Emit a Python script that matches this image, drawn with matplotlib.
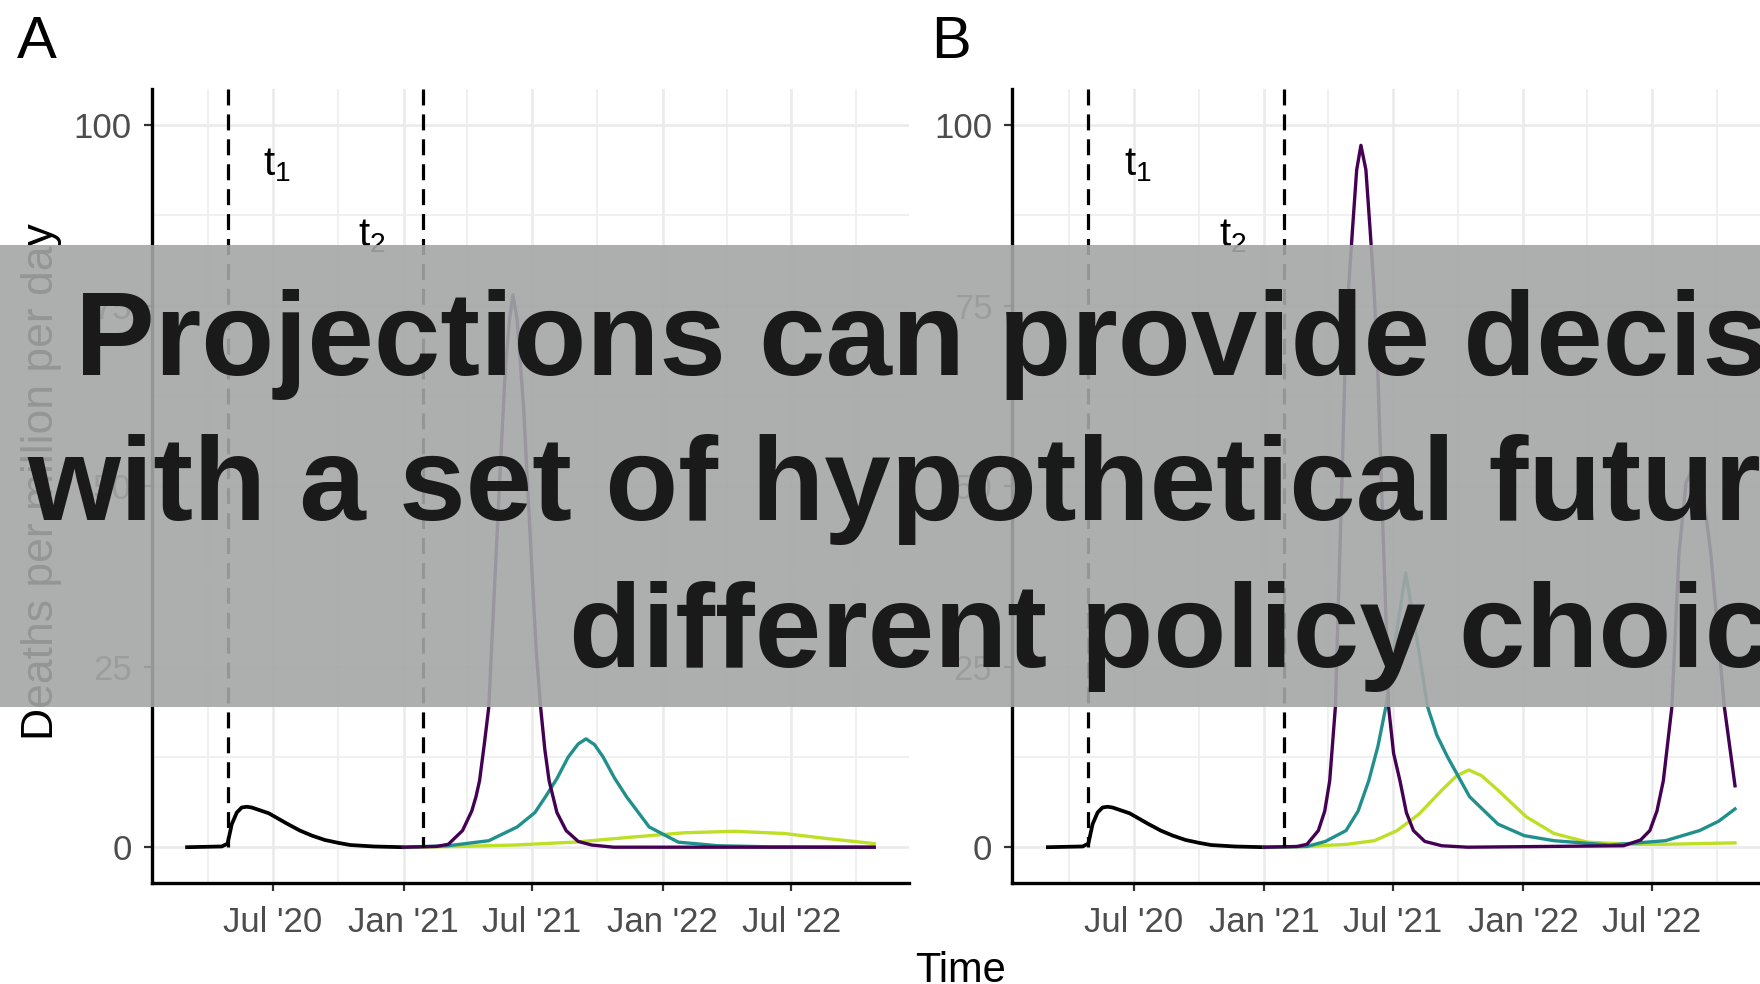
import matplotlib
matplotlib.use("Agg")
import matplotlib.pyplot as plt
import numpy as np
from matplotlib.patches import Rectangle

plt.rcParams['font.family'] = ['Liberation Sans', 'DejaVu Sans']
plt.rcParams['mathtext.fontset'] = 'custom'
plt.rcParams['mathtext.rm'] = 'Liberation Sans'
plt.rcParams['mathtext.it'] = 'Liberation Sans:italic'

# observed deaths (black, same in both panels)
obs_dates = ['2020-03-02', '2020-04-20', '2020-04-28', '2020-05-04', '2020-05-11', '2020-05-18',
             '2020-05-25', '2020-06-01', '2020-06-13', '2020-06-25', '2020-07-04', '2020-07-20',
             '2020-08-08', '2020-08-25', '2020-09-12', '2020-10-01', '2020-10-18', '2020-11-20',
             '2020-12-31']
obs_deaths = [0, 0.1, 0.5, 3.2, 4.8, 5.5, 5.6, 5.5, 5.1, 4.7, 4.2, 3.3, 2.3, 1.6, 1.0, 0.6, 0.3, 0.1, 0]

# panel A scenarios
a_high_dates = ['2021-01-01', '2021-02-16', '2021-03-05', '2021-03-25', '2021-04-07', '2021-04-13',
                '2021-04-18', '2021-04-25', '2021-05-01', '2021-05-10', '2021-05-17', '2021-05-24',
                '2021-05-30', '2021-06-04', '2021-06-10', '2021-06-19', '2021-07-01', '2021-07-07',
                '2021-07-13', '2021-07-19', '2021-07-25', '2021-08-05', '2021-08-18', '2021-09-04',
                '2021-09-23', '2021-10-24', '2022-10-26']
a_high = [0, 0.1, 0.4, 2.3, 5.0, 7.0, 9.2, 14.5, 19.4, 37.9, 52, 65.6, 73, 76.5, 73, 61, 37.9, 27,
          19.4, 13.5, 9.2, 4.8, 2.3, 0.8, 0.3, 0, 0]

a_mid_dates = ['2021-01-01', '2021-03-05', '2021-05-01', '2021-06-10', '2021-07-05', '2021-07-20',
               '2021-08-05', '2021-08-21', '2021-09-04', '2021-09-15', '2021-09-27', '2021-10-09',
               '2021-10-25', '2021-11-11', '2021-12-13', '2022-01-23', '2022-03-20', '2022-06-01',
               '2022-10-26']
a_mid = [0, 0.2, 0.9, 2.8, 4.8, 7.0, 9.5, 12.5, 14.3, 15.0, 14.2, 12.5, 9.6, 7.0, 2.8, 0.7, 0.2,
         0.05, 0]

a_low_dates = ['2021-01-01', '2021-03-18', '2021-06-06', '2021-08-30', '2021-11-19', '2022-02-01',
               '2022-04-12', '2022-06-21', '2022-08-20', '2022-10-26']
a_low = [0, 0.1, 0.3, 0.7, 1.4, 2.0, 2.2, 1.9, 1.2, 0.5]

# panel B scenarios
b_high_dates = ['2021-01-01', '2021-02-16', '2021-03-02', '2021-03-18', '2021-03-27', '2021-04-03',
                '2021-04-11', '2021-04-14', '2021-04-20', '2021-04-25', '2021-04-30', '2021-05-05',
                '2021-05-11', '2021-05-17', '2021-05-24', '2021-05-30', '2021-06-04', '2021-06-09',
                '2021-06-16', '2021-06-22', '2021-06-25', '2021-07-02', '2021-07-11', '2021-07-20',
                '2021-07-30', '2021-08-15', '2021-09-08', '2021-10-14', '2022-05-22', '2022-06-15',
                '2022-06-28', '2022-07-08', '2022-07-17', '2022-07-29', '2022-08-08', '2022-08-18',
                '2022-08-30', '2022-09-10', '2022-09-22', '2022-10-11', '2022-10-26']
b_high = [0, 0.1, 0.4, 2.3, 5.0, 9.2, 19.4, 29.6, 50, 68, 78, 85.4, 93.8, 97.2, 93.8, 85.4, 78, 68,
          47, 29.6, 19.4, 13, 9.2, 4.8, 2.3, 0.8, 0.2, 0, 0.2, 1.0, 2.3, 5.0, 9.2, 19.4, 40.6, 50.5,
          53.1, 50, 40.6, 19.4, 8.5]

b_mid_dates = ['2021-01-01', '2021-03-02', '2021-03-28', '2021-04-26', '2021-05-13', '2021-05-28',
               '2021-06-10', '2021-06-21', '2021-07-05', '2021-07-19', '2021-08-02', '2021-08-19',
               '2021-09-01', '2021-09-16', '2021-10-17', '2021-11-26', '2022-01-02', '2022-02-13',
               '2022-05-02', '2022-07-20', '2022-09-06', '2022-10-03', '2022-10-26']
b_mid = [0, 0.1, 0.8, 2.3, 5.0, 9.2, 14, 19.4, 29, 38, 30, 19.4, 15.5, 12.5, 7.0, 3.2, 1.6, 0.9,
         0.3, 0.9, 2.3, 3.6, 5.3]

b_low_dates = ['2021-01-01', '2021-03-02', '2021-04-27', '2021-06-05', '2021-07-07', '2021-08-07',
               '2021-09-08', '2021-09-29', '2021-10-16', '2021-11-03', '2021-11-26', '2022-01-05',
               '2022-02-13', '2022-04-01', '2022-05-31', '2022-07-20', '2022-10-26']
b_low = [0, 0.1, 0.4, 0.9, 2.3, 4.6, 7.9, 9.9, 10.7, 9.9, 7.9, 4.2, 1.9, 0.7, 0.4, 0.4, 0.6]

t1_date = '2020-04-28'
t2_date = '2021-01-28'

major_dates = ['2020-07-01', '2021-01-01', '2021-07-01', '2022-01-01', '2022-07-01']
major_labels = ["Jul '20", "Jan '21", "Jul '21", "Jan '22", "Jul '22"]
minor_dates = ['2020-04-01', '2020-10-01', '2021-04-01', '2021-10-01', '2022-04-01', '2022-10-01']
y_ticks = [0, 25, 50, 75, 100]
y_minor = [12.5, 37.5, 62.5, 87.5]

overlay_lines = ["Projections can provide decision-makers",
                 "with a set of hypothetical futures based on",
                 "different policy choices"]

colors = {'high': '#440154', 'mid': '#21908C', 'low': '#BDDF26'}


def d(lst):
    return np.array(lst, dtype='datetime64[D]')


W, H = 1760, 984
fig = plt.figure(figsize=(W / 100, H / 100), dpi=100)


def draw_panel(left, scen):
    ax = fig.add_axes([left / W, 1 - 883.3 / H, 757.4 / W, 794.3 / H])
    ax.set_xlim(np.datetime64('2020-01-12'), np.datetime64('2022-12-14'))
    ax.set_ylim(-5, 105)
    ax.set_axisbelow(True)
    for s in ['top', 'right']:
        ax.spines[s].set_visible(False)
    for s in ['left', 'bottom']:
        ax.spines[s].set_linewidth(2.4)
        ax.spines[s].set_color('black')

    ax.set_xticks(d(major_dates))
    ax.set_xticklabels(major_labels)
    ax.set_xticks(d(minor_dates), minor=True)
    ax.set_yticks(y_ticks)
    ax.set_yticks(y_minor, minor=True)
    ax.grid(which='major', color='#EBEBEB', lw=1.9)
    ax.grid(which='minor', color='#EEEEEE', lw=1.2)
    ax.tick_params(which='major', labelsize=25, labelcolor='#4D4D4D', color='#333333',
                   length=6, width=1.6)
    ax.tick_params(axis='x', which='major', pad=10)
    ax.tick_params(axis='y', which='major', pad=8.4)
    ax.tick_params(which='minor', length=0)

    ax.plot(d(obs_dates), obs_deaths, color='black', lw=2.7)
    for dates, vals, key in scen:
        ax.plot(d(dates), vals, color=colors[key], lw=2.4)

    for t in [t1_date, t2_date]:
        ax.plot(d([t, t]), [105, 0], color='black', lw=2.3, dashes=(5.0, 2.8))

    ax.text(np.datetime64('2020-07-07'), 94.5, r'$\mathrm{t}_{1}$', fontsize=29,
            ha='center', va='center')
    ax.text(np.datetime64('2020-11-18'), 84.6, r'$\mathrm{t}_{2}$', fontsize=29,
            ha='center', va='center')
    return ax


ax_a = draw_panel(151.6, [(a_low_dates, a_low, 'low'), (a_mid_dates, a_mid, 'mid'),
                          (a_high_dates, a_high, 'high')])
ax_b = draw_panel(1012.4, [(b_low_dates, b_low, 'low'), (b_mid_dates, b_mid, 'mid'),
                           (b_high_dates, b_high, 'high')])

fig.text(17 / W, 1 - 58.3 / H, 'A', fontsize=43, ha='left', va='baseline')
fig.text(931 / W, 1 - 58.3 / H, 'B', fontsize=43, ha='left', va='baseline')
fig.text(41.5 / W, 1 - 482 / H, 'Deaths per million per day', fontsize=32, rotation=90,
         ha='center', va='center', zorder=1)
fig.text(960 / W, 1 - 981.7 / H, 'Time', fontsize=30, ha='center', va='baseline')

# grey banner on top of the figure
fig.add_artist(Rectangle((0, 1 - 707 / H), 1, (707 - 245) / H, transform=fig.transFigure,
                         facecolor='#A4A7A6', alpha=0.9, edgecolor='none', zorder=5))
for x0, base, line in zip([75, 27, 569], [375, 520, 667], overlay_lines):
    fig.text(x0 / W, 1 - base / H, line, fontsize=86, fontweight='bold', color='#1A1A1A',
             ha='left', va='baseline', zorder=6)

fig.savefig('out.png', dpi=100)
